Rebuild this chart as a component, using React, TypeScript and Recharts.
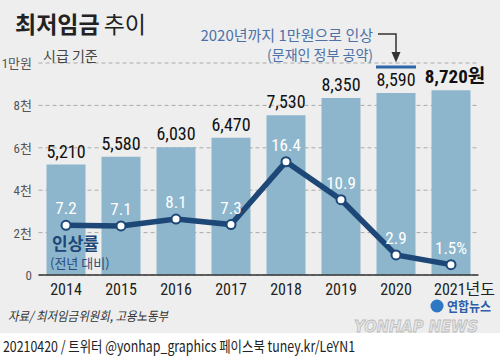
import React from 'react';
import { ComposedChart, Bar, Line, XAxis, YAxis, CartesianGrid, LabelList } from 'recharts';

const years = ['2014', '2015', '2016', '2017', '2018', '2019', '2020', '2021'];
const wages = [5210, 5580, 6030, 6470, 7530, 8350, 8590, 8720];
const wageLabels = ['5,210', '5,580', '6,030', '6,470', '7,530', '8,350', '8,590', '8,720원'];
const rates = [7.2, 7.1, 8.1, 7.3, 16.4, 10.9, 2.9, 1.5];
const rateLabels = ['7.2', '7.1', '8.1', '7.3', '16.4', '10.9', '2.9', '1.5%'];
const wageTicks = [0, 2000, 4000, 6000, 8000, 10000];
const wageTickLabels = ['0', '2천', '4천', '6천', '8천', '1만원'];

const data = years.map((y, i) => ({
  year: y,
  wage: wages[i],
  wageLabel: wageLabels[i],
  rate: rates[i],
  rateLabel: rateLabels[i],
}));

const NUM_FONT = "'Liberation Sans Narrow', 'Roboto Condensed', Roboto, 'Noto Sans CJK KR', sans-serif";
const KR_FONT = "'Noto Sans CJK KR', 'Noto Sans', sans-serif";
const BAR = '#8db6cd';
const NAVY = '#1c4776';
const BLUE_TXT = '#4d72a8';

const YTick = (props: any) => {
  const { y, payload } = props;
  const idx = wageTicks.indexOf(payload.value);
  return (
    <text x={32} y={y} dy={5} textAnchor="end" fontSize={13} fill="#555" fontFamily={NUM_FONT}>
      {wageTickLabels[idx]}
    </text>
  );
};

const XTick = (props: any) => {
  const { x, y, payload } = props;
  const last = payload.value === '2021';
  return (
    <text
      x={last ? x - 17 : x}
      y={y + 12}
      textAnchor={last ? 'start' : 'middle'}
      fontSize={16}
      fill="#222"
      fontFamily={NUM_FONT}
    >
      {last ? '2021년도' : payload.value}
    </text>
  );
};

const BarValue = (props: any) => {
  const { x, y, width, value, index } = props;
  const last = index === years.length - 1;
  return (
    <text
      x={x + width / 2 + (last ? 4 : 0)}
      y={y - 7}
      textAnchor="middle"
      fontSize={last ? 19 : 18}
      fontWeight={last ? 700 : 400}
      fill="#111"
      fontFamily={NUM_FONT}
    >
      {value}
    </text>
  );
};

const RateValue = (props: any) => {
  const { x, y, value } = props;
  return (
    <text x={x} y={y - 11} textAnchor="middle" fontSize={17} fill="#fff" fontFamily={NUM_FONT}>
      {value}
    </text>
  );
};

export default function App() {
  return (
    <div style={{ position: 'absolute', left: 0, top: 0, width: 500, height: 358, background: '#fff', overflow: 'hidden' }}>
      <div style={{ position: 'absolute', left: 0, top: 0, width: 500, height: 333, background: '#eeeeee' }} />
      <div style={{ position: 'absolute', left: 0, top: 0 }}>
        <ComposedChart width={500} height={358} data={data} margin={{ top: 63, right: 21.5, bottom: 53, left: 0 }}>
          <CartesianGrid vertical={false} stroke="#aaa" strokeDasharray="4 3" yAxisId="left" />
          <XAxis
            dataKey="year"
            height={30}
            axisLine={{ stroke: '#333', strokeWidth: 1.5 }}
            tickLine={false}
            tick={<XTick />}
            interval={0}
          />
          <YAxis
            yAxisId="left"
            width={38.5}
            domain={[0, 10000]}
            ticks={wageTicks}
            axisLine={false}
            tickLine={false}
            tick={<YTick />}
            interval={0}
          />
          <YAxis yAxisId="right" orientation="right" hide domain={[0, 30.7]} />
          <Bar yAxisId="left" dataKey="wage" fill={BAR} barSize={39} isAnimationActive={false}>
            <LabelList dataKey="wageLabel" content={<BarValue />} />
          </Bar>
          <Line
            yAxisId="right"
            dataKey="rate"
            stroke={NAVY}
            strokeWidth={5.5}
            dot={{ r: 4.5, fill: '#fff', stroke: NAVY, strokeWidth: 2 }}
            isAnimationActive={false}
          >
            <LabelList dataKey="rateLabel" content={<RateValue />} />
          </Line>
        </ComposedChart>
      </div>
      <svg width={500} height={358} style={{ position: 'absolute', left: 0, top: 0, pointerEvents: 'none' }}>
        <defs>
          <marker id="arr" markerWidth="8" markerHeight="8" refX="4" refY="4" orient="auto">
            <path d="M0,1 L7,4 L0,7 Z" fill="#333" />
          </marker>
        </defs>
        <text x={15} y={33} fontSize={23} fill="#222" fontFamily={KR_FONT}>
          <tspan fontWeight={700}>최저임금</tspan>
          <tspan dx={4}>추이</tspan>
        </text>
        <text x={43} y={61} fontSize={14} fill="#444" fontFamily={KR_FONT}>시급 기준</text>
        <text x={373} y={41} textAnchor="end" fontSize={15} fill={BLUE_TXT} fontFamily={KR_FONT}>2020년까지 1만원으로 인상</text>
        <text x={373} y={60} textAnchor="end" fontSize={14} fill={BLUE_TXT} fontFamily={KR_FONT}>(문재인 정부 공약)</text>
        <path d="M378,34 L396,34 L396,58" stroke="#333" strokeWidth={1.5} fill="none" markerEnd="url(#arr)" />
        <line x1={376} y1={67} x2={416} y2={67} stroke="#2d67a6" strokeWidth={3} />
        <text x={52} y={250} fontSize={17} fontWeight={700} fill={NAVY} fontFamily={KR_FONT}>인상률</text>
        <text x={50} y={268} fontSize={13} fill="#2a4d7c" fontFamily={KR_FONT}>(전년 대비)</text>
        <text x={8} y={321} fontSize={13} fill="#333" fontStyle="italic" fontFamily={KR_FONT} textLength={160} lengthAdjust="spacingAndGlyphs">자료/ 최저임금위원회, 고용노동부</text>
        <circle cx={437} cy={306} r={6.5} fill="#2c78c2" />
        <text x={447} y={311} fontSize={13} fontWeight={700} fill="#2c5fa8" fontFamily={KR_FONT} textLength={44} lengthAdjust="spacingAndGlyphs">연합뉴스</text>
        <text x={354} y={332} fontSize={16} fontWeight={700} fontStyle="italic" fill="#e4e4e4" stroke="#bbb" strokeWidth={0.8} fontFamily="'DejaVu Sans', sans-serif" textLength={124} lengthAdjust="spacingAndGlyphs">YONHAP NEWS</text>
        <text x={3} y={352} fontSize={15} fill="#222" fontFamily={KR_FONT} textLength={352} lengthAdjust="spacingAndGlyphs">20210420 / 트위터 @yonhap_graphics  페이스북 tuney.kr/LeYN1</text>
      </svg>
    </div>
  );
}
